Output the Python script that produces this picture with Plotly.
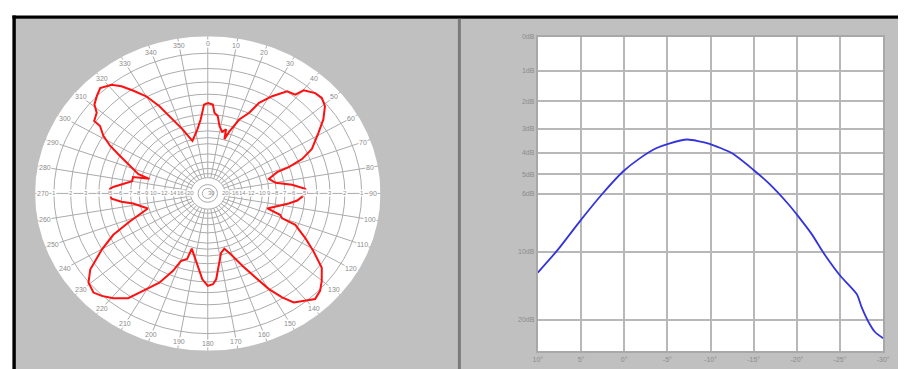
import numpy as np
import plotly.graph_objects as go

# ---------------- data ----------------
# Horizontal radiation pattern (angle in degrees clockwise from north, relative field amplitude)
pattern_deg = [0, 3.0, 4.3, 6.7, 9.0, 12.0, 14.6, 15.6, 17.5, 19.7, 21.2, 25.1, 27.3, 31.1, 35.3,
               38.9, 40.3, 44.3, 47.4, 50.7, 54.9, 58.9, 64.9, 68.2, 70.4, 71.4, 75.3, 80.2, 83.6,
               87.0, 89.5, 92.3, 95.0, 97.8, 99.8, 105.5, 108.0, 110.2, 111.5, 116.7, 121.0, 125.6,
               130.2, 133.6, 137.2, 140.4, 144.3, 146.9, 149.8, 152.6, 156.4, 160.9, 164.7, 168.5,
               171.0, 174.9, 177.0, 180.0, 183.3, 185.9, 189.5, 191.5, 194.8, 196.0, 199.9, 202.3,
               206.3, 211.2, 214.7, 219.4, 223.3, 226.4, 230.6, 234.6, 239.8, 244.3, 248.4, 254.5,
               261.6, 264.0, 266.6, 270.0, 273.0, 274.3, 277.2, 280.0, 283.5, 285.4, 287.0, 289.8,
               295.2, 298.2, 301.2, 304.5, 305.0, 308.6, 310.7, 313.9, 317.1, 321.1, 323.7, 326.5,
               330.0, 333.2, 336.6, 340.3, 345.1, 351.6, 355.0, 357.8, 360.0]
pattern_amp = [0.575, 0.566, 0.514, 0.495, 0.434, 0.400, 0.421, 0.358, 0.410, 0.456, 0.504, 0.566,
               0.648, 0.722, 0.795, 0.807, 0.859, 0.891, 0.897, 0.877, 0.818, 0.749, 0.666, 0.588,
               0.498, 0.424, 0.366, 0.399, 0.491, 0.565, 0.574, 0.546, 0.520, 0.473, 0.437, 0.358,
               0.440, 0.459, 0.545, 0.632, 0.714, 0.812, 0.864, 0.898, 0.915, 0.885, 0.853, 0.789,
               0.704, 0.604, 0.504, 0.411, 0.364, 0.386, 0.436, 0.548, 0.578, 0.588, 0.547, 0.486,
               0.426, 0.397, 0.363, 0.434, 0.458, 0.534, 0.633, 0.724, 0.810, 0.862, 0.895, 0.914,
               0.894, 0.835, 0.710, 0.607, 0.486, 0.360, 0.437, 0.503, 0.558, 0.570, 0.567, 0.549,
               0.494, 0.445, 0.445, 0.350, 0.420, 0.460, 0.563, 0.642, 0.707, 0.757, 0.803, 0.823,
               0.866, 0.892, 0.915, 0.887, 0.845, 0.785, 0.713, 0.621, 0.512, 0.433, 0.346, 0.412,
               0.472, 0.565, 0.575]

# Vertical pattern (elevation angle in degrees, relative field amplitude)
vert_deg = [10, 7.7, 5.05, 2.57, 0.1, -1.8, -3.7, -5.2, -7.3, -9.8, -12.5, -14.95, -16.7, -19.0,
            -20.1, -21.8, -23.1, -25.05, -26.95, -27.5, -28.3, -29.05, -30]
vert_amp = [0.25, 0.322, 0.416, 0.499, 0.572, 0.613, 0.645, 0.660, 0.673, 0.660, 0.629, 0.577,
            0.535, 0.468, 0.431, 0.369, 0.312, 0.239, 0.181, 0.140, 0.093, 0.061, 0.041]

# polar grid
ring_db = [1, 2, 3, 4, 5, 6, 7, 8, 9, 10, 12, 14, 16, 18, 20, 25, 30]
ring_label_db = [1, 2, 3, 4, 5, 6, 7, 8, 9, 10, 12, 14, 16, 20]
spoke_deg = [0, 10, 20, 30, 40, 50, 60, 70, 80, 90, 100, 110, 120, 130, 140, 150, 160, 170,
             180, 190, 200, 210, 220, 230, 240, 250, 260, 270, 280, 290, 300, 310, 320, 330, 340, 350]

# right chart ticks
y_tick_db = [0, 1, 2, 3, 4, 5, 6, 10, 20]
x_tick_deg = [10, 5, 0, -5, -10, -15, -20, -25, -30]

# ---------------- layout helpers ----------------
W, H = 905, 369
def px(x):
    return x / W
def py(y):
    return 1 - y / H

GRAY = "#c0c0c0"
GRID = "#ababab"
LBL = "#8c8c8c"
FONT = "Liberation Sans, Arial, sans-serif"

fig = go.Figure()

th = np.radians(np.array(pattern_deg))
amp = np.array(pattern_amp)
fig.add_trace(go.Scatter(x=amp * np.sin(th), y=amp * np.cos(th), mode="lines",
                         line=dict(color="#ff1010", width=2), xaxis="x", yaxis="y",
                         hoverinfo="skip", showlegend=False))

fig.add_trace(go.Scatter(x=vert_deg, y=vert_amp, mode="lines",
                         line=dict(color="#3434dc", width=1.8, shape="spline", smoothing=0.6),
                         xaxis="x2", yaxis="y2", hoverinfo="skip", showlegend=False))

shapes = []
# page frame
shapes.append(dict(type="rect", xref="paper", yref="paper", x0=px(11), x1=1, y0=0, y1=py(15),
                   fillcolor=GRAY, line=dict(width=0), layer="below"))
shapes.append(dict(type="rect", xref="paper", yref="paper", x0=px(7.5), x1=1, y0=py(15), y1=py(11.5),
                   fillcolor="black", line=dict(width=0), layer="below"))
shapes.append(dict(type="rect", xref="paper", yref="paper", x0=px(7.5), x1=px(11), y0=0, y1=py(11.5),
                   fillcolor="black", line=dict(width=0), layer="below"))
shapes.append(dict(type="rect", xref="paper", yref="paper", x0=px(459), x1=px(462), y0=0, y1=py(15),
                   fillcolor="#7a7a7a", line=dict(width=0), layer="below"))
# right plot white area
shapes.append(dict(type="rect", xref="paper", yref="paper", x0=px(540), x1=px(890), y0=py(351), y1=py(33),
                   fillcolor="white", line=dict(width=0), layer="below"))

# polar-like ellipse
shapes.append(dict(type="circle", xref="x", yref="y", x0=-1, x1=1, y0=-1, y1=1,
                   fillcolor="white", line=dict(width=0), layer="below"))
for d in ring_db:
    a = 10 ** (-d / 20)
    shapes.append(dict(type="circle", xref="x", yref="y", x0=-a, x1=a, y0=-a, y1=a,
                       line=dict(color=GRID, width=1), layer="below"))
for s in spoke_deg:
    t = np.radians(s)
    shapes.append(dict(type="line", xref="x", yref="y",
                       x0=0.1 * np.sin(t), y0=0.1 * np.cos(t), x1=np.sin(t), y1=np.cos(t),
                       line=dict(color=GRID, width=1), layer="below"))
fig.update_layout(shapes=shapes)

ann = []
for s in spoke_deg:
    t = np.radians(s)
    ann.append(dict(x=0.955 * np.sin(t), y=0.955 * np.cos(t), xref="x", yref="y", text=str(s),
                    showarrow=False, font=dict(size=7, color=LBL, family=FONT),
                    bgcolor="white", borderpad=0))
for d in ring_label_db:
    a = 10 ** (-d / 20)
    for sgn in (-1, 1):
        ann.append(dict(x=sgn * a, y=0, xref="x", yref="y", text=str(d), showarrow=False,
                        font=dict(size=6, color=LBL, family=FONT), bgcolor="white", borderpad=0))
ann.append(dict(x=0.02, y=0, xref="x", yref="y", text="30", showarrow=False,
                font=dict(size=6, color=LBL, family=FONT)))
fig.update_layout(annotations=ann)

fig.update_layout(
    width=W, height=H, margin=dict(l=0, r=0, t=0, b=0),
    paper_bgcolor="white", plot_bgcolor="rgba(0,0,0,0)",
    showlegend=False,
    xaxis=dict(domain=[px(30.5), px(380.5)], range=[-1, 1], visible=False, fixedrange=True),
    yaxis=dict(domain=[py(350.5), py(32.5)], range=[-1, 1], visible=False, fixedrange=True),
    xaxis2=dict(domain=[px(540), px(890)], range=[10, -30], anchor="y2",
                tickvals=x_tick_deg, ticktext=[f"{v}°" for v in x_tick_deg],
                showgrid=True, gridcolor="#b8b8b8", gridwidth=1.5, zeroline=False,
                showline=True, mirror=True, linecolor="#a8a8a8", linewidth=2,
                ticks="", tickfont=dict(size=7, color=LBL, family=FONT)),
    yaxis2=dict(domain=[py(351), py(33)], range=[0, 1], anchor="x2",
                tickvals=[10 ** (-d / 20) for d in y_tick_db], ticktext=[f"{d}dB" for d in y_tick_db],
                showgrid=True, gridcolor="#b8b8b8", gridwidth=1.5, zeroline=False,
                showline=True, mirror=True, linecolor="#a8a8a8", linewidth=2,
                ticks="", tickfont=dict(size=7, color=LBL, family=FONT)),
)

fig.write_html("out.html", config={"displayModeBar": False},
               post_script="document.body.style.margin='0';document.body.style.padding='0';"
                           "document.documentElement.style.overflow='hidden';")
